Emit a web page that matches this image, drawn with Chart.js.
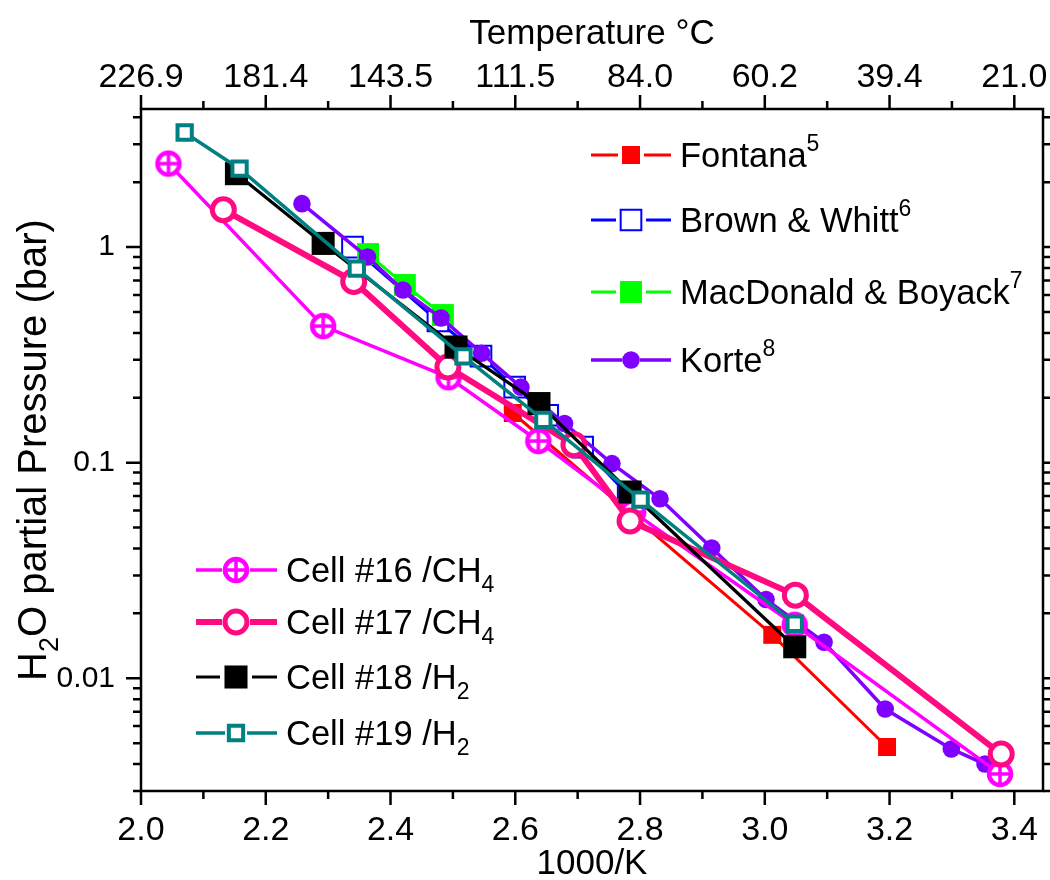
<!DOCTYPE html>
<html>
<head>
<meta charset="utf-8">
<script src="https://cdn.jsdelivr.net/npm/chart.js@4/dist/chart.umd.min.js"></script>
<style>
  body { margin: 0; background: #fff; }
  canvas { display: block; }
</style>
</head>
<body>
<canvas id="c" width="1050" height="880"></canvas>
<script>
// valores (x = 1000/K, y = presion parcial en bar)
const fontanaX = [2.596, 3.012, 3.196];
const fontanaY = [0.170, 0.0159, 0.0048];
const brownX = [2.339, 2.476, 2.545, 2.599, 2.652, 2.708, 2.781];
const brownY = [1.00, 0.454, 0.312, 0.224, 0.166, 0.118, 0.0708];
const macX = [2.364, 2.423, 2.484];
const macY = [0.928, 0.667, 0.484];
const korteX = [2.258, 2.363, 2.420, 2.481, 2.546, 2.609, 2.679, 2.755, 2.832, 2.915, 3.002, 3.095, 3.193, 3.299, 3.353];
const korteY = [1.59, 0.899, 0.632, 0.469, 0.322, 0.224, 0.152, 0.099, 0.068, 0.0402, 0.0232, 0.0147, 0.0072, 0.0047, 0.0040];
const cell16X = [2.044, 2.292, 2.493, 2.637, 2.789, 3.048, 3.377];
const cell16Y = [2.44, 0.430, 0.249, 0.126, 0.059, 0.0177, 0.0036];
const cell17X = [2.132, 2.341, 2.492, 2.694, 2.784, 3.049, 3.379];
const cell17Y = [1.49, 0.692, 0.278, 0.121, 0.0536, 0.0243, 0.00445];
const cell18X = [2.153, 2.292, 2.505, 2.638, 2.784, 3.048];
const cell18Y = [2.19, 1.04, 0.344, 0.188, 0.0731, 0.0140];
const cell19X = [2.070, 2.158, 2.346, 2.517, 2.645, 2.801, 3.048];
const cell19Y = [3.40, 2.31, 0.795, 0.311, 0.158, 0.0674, 0.0179];

// ticks
const xMajor = [2.0, 2.2, 2.4, 2.6, 2.8, 3.0, 3.2, 3.4];
const xTickLabels = ['2.0', '2.2', '2.4', '2.6', '2.8', '3.0', '3.2', '3.4'];
const topTickLabels = ['226.9', '181.4', '143.5', '111.5', '84.0', '60.2', '39.4', '21.0'];
const yMajor = [0.01, 0.1, 1];
const yTickLabels = ['0.01', '0.1', '1'];

const FONT = "'Liberation Sans', Arial, Helvetica, sans-serif";

const toPts = (xs, ys) => xs.map((x, i) => ({ x: x, y: ys[i] }));

// marcador circulo con cruz (Cell #16)
const crossCircle = (() => {
  const cv = document.createElement('canvas');
  cv.width = 30; cv.height = 30;
  const g = cv.getContext('2d');
  g.fillStyle = '#fff';
  g.strokeStyle = '#ff00ff';
  g.lineWidth = 4.5;
  g.beginPath(); g.arc(15, 15, 11, 0, Math.PI * 2); g.fill(); g.stroke();
  g.lineWidth = 3.5;
  g.beginPath(); g.moveTo(4, 15); g.lineTo(26, 15); g.moveTo(15, 4); g.lineTo(15, 26); g.stroke();
  return cv;
})();

const datasets = [
  { label: 'Fontana', data: toPts(fontanaX, fontanaY), borderColor: '#ff0000', backgroundColor: '#ff0000',
    borderWidth: 3, pointStyle: 'rect', pointRadius: 12.7, pointBorderWidth: 0, order: 8, gap: 13 },
  { label: 'Brown & Whitt', data: toPts(brownX, brownY), borderColor: '#0000ff', backgroundColor: '#ffffff',
    borderWidth: 3, pointStyle: 'rect', pointRadius: 14.6, pointBorderWidth: 2, order: 7, gap: 15 },
  { label: 'MacDonald & Boyack', data: toPts(macX, macY), borderColor: '#00ff00', backgroundColor: '#00ff00',
    borderWidth: 3, pointStyle: 'rect', pointRadius: 15.5, pointBorderWidth: 0, order: 6, gap: 15 },
  { label: 'Korte', data: toPts(korteX, korteY), borderColor: '#8000ff', backgroundColor: '#8000ff',
    borderWidth: 3.5, pointStyle: 'circle', pointRadius: 8.8, pointBorderWidth: 0, order: 5, gap: 9 },
  { label: 'Cell #16 /CH4', data: toPts(cell16X, cell16Y), borderColor: '#ff00ff', backgroundColor: '#ffffff',
    borderWidth: 3.5, pointStyle: crossCircle, pointRadius: 13, pointBorderWidth: 0, order: 4, gap: 14 },
  { label: 'Cell #17 /CH4', data: toPts(cell17X, cell17Y), borderColor: '#ff0a80', backgroundColor: '#ffffff',
    borderWidth: 6, pointStyle: 'circle', pointRadius: 11, pointBorderWidth: 5, order: 3, gap: 14 },
  { label: 'Cell #18 /H2', data: toPts(cell18X, cell18Y), borderColor: '#000000', backgroundColor: '#000000',
    borderWidth: 3.2, pointStyle: 'rect', pointRadius: 16.3, pointBorderWidth: 0, order: 2, gap: 16 },
  { label: 'Cell #19 /H2', data: toPts(cell19X, cell19Y), borderColor: '#008080', backgroundColor: '#ffffff',
    borderWidth: 3.5, pointStyle: 'rect', pointRadius: 10.1, pointBorderWidth: 4, order: 1, gap: 11 }
].map(d => Object.assign(d, {
  showLine: true, tension: 0, fill: false,
  pointBackgroundColor: d.backgroundColor, pointBorderColor: d.borderColor,
  pointHoverRadius: d.pointRadius, clip: false
}));

// leyendas (texto con super/subindice)
const legendTop = [
  { ds: 0, parts: [{ t: 'Fontana' }, { t: '5', sup: true }], y: 155 },
  { ds: 1, parts: [{ t: 'Brown & Whitt' }, { t: '6', sup: true }], y: 220 },
  { ds: 2, parts: [{ t: 'MacDonald & Boyack' }, { t: '7', sup: true }], y: 292 },
  { ds: 3, parts: [{ t: 'Korte' }, { t: '8', sup: true }], y: 360 }
];
const legendBottom = [
  { ds: 4, parts: [{ t: 'Cell #16 /CH' }, { t: '4', sub: true }], y: 570 },
  { ds: 5, parts: [{ t: 'Cell #17 /CH' }, { t: '4', sub: true }], y: 622 },
  { ds: 6, parts: [{ t: 'Cell #18 /H' }, { t: '2', sub: true }], y: 677 },
  { ds: 7, parts: [{ t: 'Cell #19 /H' }, { t: '2', sub: true }], y: 733 }
];

const drawRich = (ctx, parts, x, y, size, align) => {
  const small = Math.round(size * 0.68);
  const widths = parts.map(p => {
    ctx.font = ((p.sup || p.sub) ? small : size) + 'px ' + FONT;
    return ctx.measureText(p.t).width;
  });
  const total = widths.reduce((a, b) => a + b, 0);
  let cx = align === 'center' ? x - total / 2 : x;
  ctx.textAlign = 'left';
  ctx.textBaseline = 'alphabetic';
  parts.forEach((p, i) => {
    ctx.font = ((p.sup || p.sub) ? small : size) + 'px ' + FONT;
    let dy = 0;
    if (p.sup) dy = -size * 0.45;
    if (p.sub) dy = size * 0.3;
    ctx.fillText(p.t, cx, y + dy);
    cx += widths[i];
  });
};

const drawLegend = (chart, items, x1, mx, x2, tx) => {
  const ctx = chart.ctx;
  items.forEach(it => {
    const d = chart.data.datasets[it.ds];
    ctx.save();
    ctx.strokeStyle = d.borderColor;
    ctx.lineWidth = d.borderWidth;
    ctx.beginPath();
    ctx.moveTo(x1, it.y); ctx.lineTo(mx - d.gap, it.y);
    ctx.moveTo(mx + d.gap, it.y); ctx.lineTo(x2, it.y);
    ctx.stroke();
    ctx.fillStyle = d.pointBackgroundColor;
    ctx.strokeStyle = d.pointBorderColor;
    ctx.lineWidth = d.pointBorderWidth;
    Chart.helpers.drawPoint(ctx, { pointStyle: d.pointStyle, radius: d.pointRadius, borderWidth: d.pointBorderWidth, rotation: 0 }, mx, it.y);
    ctx.fillStyle = '#000';
    drawRich(ctx, it.parts, tx, it.y + 12, 34.5, 'left');
    ctx.restore();
  });
};

const framePlugin = {
  id: 'frame',
  afterDraw(chart) {
    const ctx = chart.ctx;
    const a = chart.chartArea;
    const xs = chart.scales.x, ys = chart.scales.y;
    ctx.save();
    ctx.strokeStyle = '#000';
    ctx.lineWidth = 2.5;
    ctx.strokeRect(a.left, a.top, a.right - a.left, a.bottom - a.top);
    // marcas del eje x (abajo y arriba)
    for (let k = 0; k <= 14; k++) {
      const v = 2.0 + k * 0.1;
      const px = xs.getPixelForValue(v);
      const len = k % 2 === 0 ? 14 : 8;
      ctx.beginPath();
      ctx.moveTo(px, a.bottom); ctx.lineTo(px, a.bottom + len);
      ctx.moveTo(px, a.top); ctx.lineTo(px, a.top - len);
      ctx.stroke();
    }
    // marcas del eje y (log)
    for (let e = -3; e <= 0; e++) {
      for (let m = 1; m <= 9; m++) {
        const v = m * Math.pow(10, e);
        if (v < ys.min * 0.999 || v > ys.max) continue;
        const py = ys.getPixelForValue(v);
        const len = m === 1 ? 15 : 8;
        ctx.beginPath();
        ctx.moveTo(a.left, py); ctx.lineTo(a.left - len, py);
        ctx.moveTo(a.right, py); ctx.lineTo(a.right + len, py);
        ctx.stroke();
      }
    }
    // titulos
    ctx.fillStyle = '#000';
    drawRich(ctx, [{ t: 'Temperature °C' }], (a.left + a.right) / 2, 44, 35, 'center');
    drawRich(ctx, [{ t: '1000/K' }], (a.left + a.right) / 2, 874, 35, 'center');
    ctx.save();
    ctx.translate(32, (a.top + a.bottom) / 2);
    ctx.rotate(-Math.PI / 2);
    drawRich(ctx, [{ t: 'H' }, { t: '2', sub: true }, { t: 'O partial Pressure (bar)' }], 0, 14, 40, 'center');
    ctx.restore();
    ctx.restore();
    drawLegend(chart, legendTop, 591, 631, 671, 680);
    drawLegend(chart, legendBottom, 196, 236, 277, 286);
  }
};

const tickFont = { family: FONT, size: 34 };
const noPadX = s => { s.paddingLeft = 0; s.paddingRight = 0; };

new Chart(document.getElementById('c'), {
  type: 'scatter',
  data: { datasets: datasets },
  options: {
    responsive: false,
    animation: false,
    devicePixelRatio: 1,
    layout: { autoPadding: false, padding: { left: 0, right: 7, top: 0, bottom: 0 } },
    plugins: { legend: { display: false }, tooltip: { enabled: false } },
    scales: {
      x: {
        type: 'linear', position: 'bottom', min: 2.0, max: 3.446,
        afterBuildTicks: s => { s.ticks = xMajor.map(v => ({ value: v })); },
        afterFit: s => { s.height = 89; noPadX(s); },
        grid: { display: false, drawTicks: false },
        border: { display: false },
        ticks: { padding: 19, color: '#000', font: tickFont, autoSkip: false, maxRotation: 0,
          callback: (v, i) => xTickLabels[i] }
      },
      x2: {
        type: 'linear', position: 'top', min: 2.0, max: 3.446,
        afterBuildTicks: s => { s.ticks = xMajor.map(v => ({ value: v })); },
        afterFit: s => { s.height = 109; noPadX(s); },
        grid: { display: false, drawTicks: false },
        border: { display: false },
        ticks: { padding: 11, color: '#000', font: tickFont, autoSkip: false, maxRotation: 0,
          callback: (v, i) => topTickLabels[i] }
      },
      y: {
        type: 'logarithmic', position: 'left', min: 0.003, max: 4.37,
        afterBuildTicks: s => { s.ticks = yMajor.map(v => ({ value: v })); },
        afterFit: s => { s.width = 141; s.paddingTop = 0; s.paddingBottom = 0; },
        grid: { display: false, drawTicks: false },
        border: { display: false },
        ticks: { padding: 26, color: '#000', font: { family: FONT, size: 30 }, autoSkip: false,
          callback: (v, i) => yTickLabels[i] }
      }
    }
  },
  plugins: [framePlugin]
});
</script>
</body>
</html>
